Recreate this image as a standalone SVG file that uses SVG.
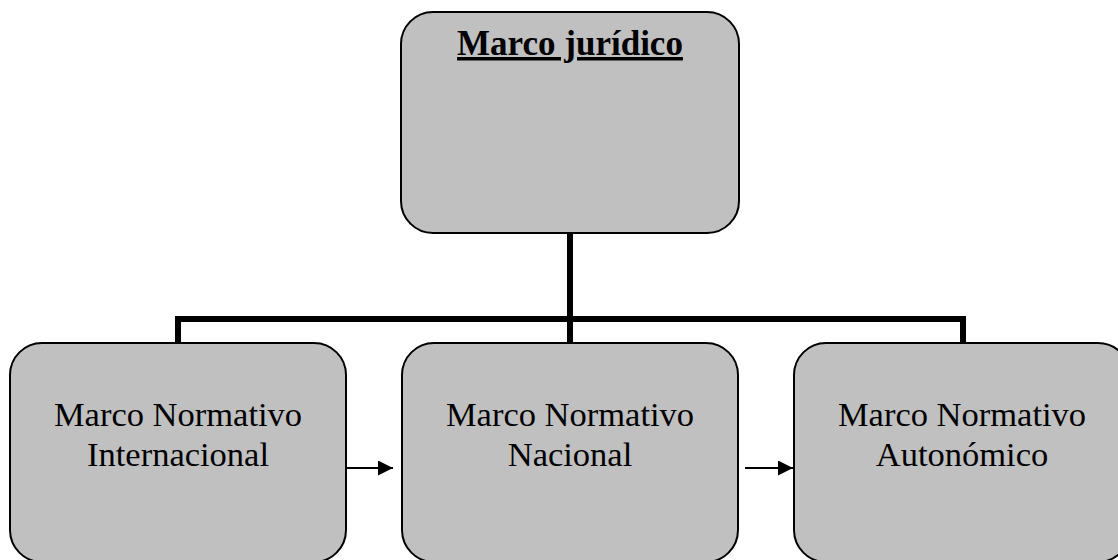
<svg xmlns="http://www.w3.org/2000/svg" width="1118" height="560" viewBox="0 0 1118 560">
<style>
.box{fill:#c0c0c0;stroke:#000;stroke-width:2}
.t{font-family:"Liberation Serif","Times New Roman",serif;font-size:34.5px;fill:#000;text-anchor:middle}
.title{font-weight:bold;text-decoration:underline;font-size:35px}
.tree{fill:none;stroke:#000;stroke-width:6}
.arr{fill:none;stroke:#000;stroke-width:2}
</style>
<defs>
<marker id="ah" markerWidth="16" markerHeight="16" refX="15" refY="7.5" orient="auto" markerUnits="userSpaceOnUse">
<path d="M0,0 L15,7.5 L0,15 Z" fill="#000"/>
</marker>
</defs>
<g id="connectors">
<path class="tree" d="M570,233 V319 M178,343 V319 H963 V343 M570,319 V343"/>
<line class="arr" x1="347" y1="468" x2="393" y2="468" marker-end="url(#ah)"/>
<line class="arr" x1="745" y1="468" x2="793" y2="468" marker-end="url(#ah)"/>
</g>
<g id="marco-juridico">
<rect class="box" x="401" y="12" width="338" height="221" rx="32" ry="32"/>
<text class="t title" x="570" y="55">Marco jurídico</text>
</g>
<g id="internacional">
<rect class="box" x="10" y="343" width="336" height="219" rx="32" ry="32"/>
<text class="t" x="178" y="426">Marco Normativo</text>
<text class="t" x="178" y="466">Internacional</text>
</g>
<g id="nacional">
<rect class="box" x="402" y="343" width="336" height="219" rx="32" ry="32"/>
<text class="t" x="570" y="426">Marco Normativo</text>
<text class="t" x="570" y="466">Nacional</text>
</g>
<g id="autonomico">
<rect class="box" x="794" y="343" width="336" height="219" rx="32" ry="32"/>
<text class="t" x="962" y="426">Marco Normativo</text>
<text class="t" x="962" y="466">Autonómico</text>
</g>
</svg>
